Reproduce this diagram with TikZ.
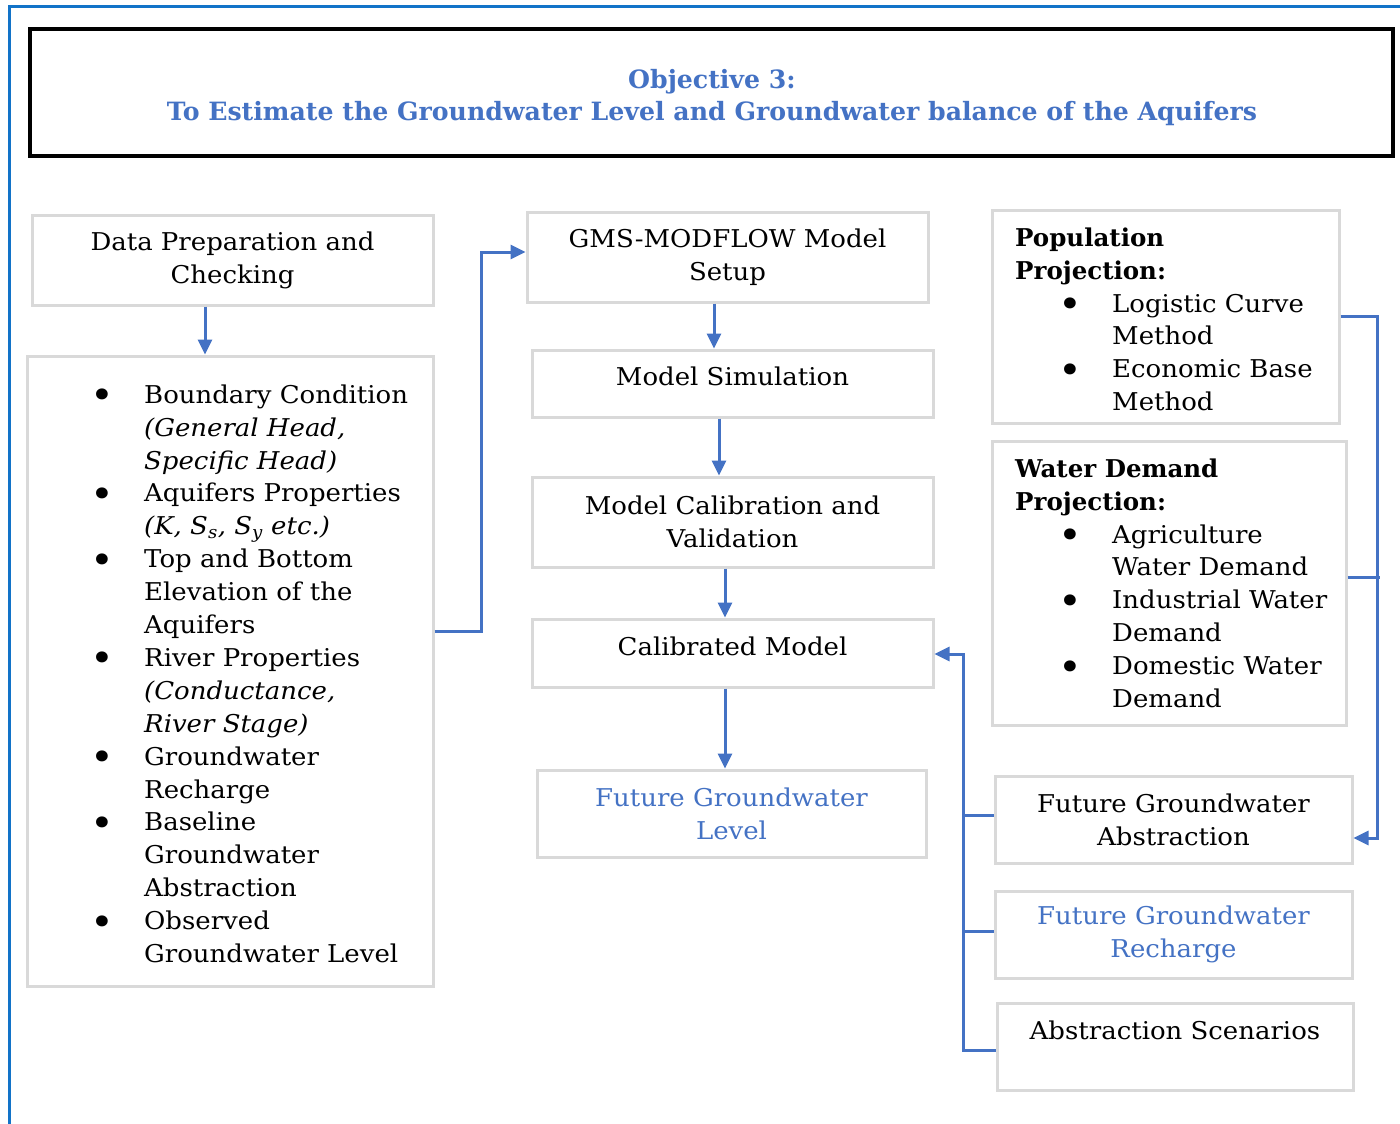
\documentclass[tikz,border=0pt]{standalone}
\usepackage{fontspec}
\setmainfont{DejaVu Serif}[FakeStretch=1.06, BoldFeatures={FakeStretch=1.0}]
\usetikzlibrary{arrows.meta,calc}
\definecolor{accent}{HTML}{4472C4}
\definecolor{framecol}{HTML}{1273C8}
\definecolor{boxline}{HTML}{D9D9D9}
% bullet and hanging indent for the item lists
\newcommand{\bul}{\makebox[47pt][l]{\hspace*{-7pt}\raisebox{-5.5pt}{\scalebox{1.55}{\textbullet}}}}
\newcommand{\cont}{\hspace*{47pt}}
\newcommand{\subind}{\hspace*{50pt}}
\begin{document}
\begin{tikzpicture}[x=1pt,y=-1pt,
  every node/.style={font=\fontsize{24.5}{32.9}\selectfont},
  box/.style={draw=boxline, line width=3pt, inner sep=0pt, align=center},
  list/.style={inner sep=0pt, align=left, anchor=north west},
  link/.style={draw=accent, line width=3pt},
  arr/.style={link, -{Triangle[length=15pt,width=14pt]}},
]
\useasboundingbox (0,0) rectangle (1400,1124);
\fill[white] (0,0) rectangle (1400,1124);

% page frame
\draw[framecol, line width=3pt] (9,1124) -- (9,7) -- (1400,7);

% heading
\node[draw=black, line width=4pt, minimum width=1363pt, minimum height=127pt,
      inner sep=0pt] (title) at (711.5,92.5) {};
\node[align=center, text=accent, inner sep=0pt,
      font=\bfseries\fontsize{25.2}{32}\selectfont] (titletext) at (712,97.5)
  {Objective 3:\\To Estimate the Groundwater Level and Groundwater balance of the Aquifers};

% left column
\node[box, minimum width=401pt, minimum height=90pt] (prep) at (232.5,260)
  {Data Preparation and\\Checking};
\node[box, minimum width=406pt, minimum height=630pt] (inputs) at (230,671) {};
\node[list] (inputlist) at (97,380) {\strut\bul Boundary Condition\\
\cont\textit{(General Head,}\\
\cont\textit{Specific Head)}\\
\bul Aquifers Properties\\
\cont\textit{(K, S\textsubscript{s}, S\textsubscript{y} etc.)}\\
\bul Top and Bottom\\
\cont Elevation of the\\
\cont Aquifers\\
\bul River Properties\\
\cont\textit{(Conductance,}\\
\cont\textit{River Stage)}\\
\bul Groundwater\\
\cont Recharge\\
\bul Baseline\\
\cont Groundwater\\
\cont Abstraction\\
\bul Observed\\
\cont Groundwater Level};

% middle column
\node[box, minimum width=401pt, minimum height=90pt] (setup) at (727.5,257)
  {GMS-MODFLOW Model\\Setup};
\node[box, minimum width=401pt, minimum height=67pt, text depth=14pt] (sim) at (732.5,383.5)
  {Model Simulation};
\node[box, minimum width=401pt, minimum height=90pt] (calib) at (732.5,522)
  {Model Calibration and\\Validation};
\node[box, minimum width=401pt, minimum height=68pt, text depth=14pt] (calibrated) at (732.5,653)
  {Calibrated Model};
\node[box, minimum width=389pt, minimum height=87pt, text=accent] (level) at (731.5,813.5)
  {Future Groundwater\\Level};

% right column
\node[box, minimum width=347pt, minimum height=213pt] (pop) at (1165.5,316.5) {};
\node[list] (poplist) at (1015,223) {\strut\textbf{Population}\\
\textbf{Projection:}\\
\subind\bul Logistic Curve\\
\subind\cont Method\\
\subind\bul Economic Base\\
\subind\cont Method};
\node[box, minimum width=354pt, minimum height=284pt] (demand) at (1169,583) {};
\node[list] (demandlist) at (1015,454) {\strut\textbf{Water Demand}\\
\textbf{Projection:}\\
\subind\bul Agriculture\\
\subind\cont Water Demand\\
\subind\bul Industrial Water\\
\subind\cont Demand\\
\subind\bul Domestic Water\\
\subind\cont Demand};
\node[box, minimum width=357pt, minimum height=87pt] (abstr) at (1173.5,819.5)
  {Future Groundwater\\Abstraction};
\node[box, minimum width=357pt, minimum height=87pt, text=accent] (recharge) at (1173.5,934.5)
  {Future Groundwater\\Recharge};
\node[box, minimum width=356pt, minimum height=87pt] (scen) at (1175,1046.5)
  {Abstraction Scenarios\\[-10pt]\strut};

% connectors
\draw[arr] ([xshift=-27.5pt]prep.south) -- ([xshift=-27.5pt]prep.south |- inputs.north);
\draw[arr] ([yshift=40pt]inputs.east) -- ++(47,0) |- ([yshift=5pt]setup.west);
\draw[arr] ([xshift=-13.5pt]setup.south) -- ([xshift=-13.5pt]setup.south |- sim.north);
\draw[arr] ([xshift=-13.5pt]sim.south) -- ([xshift=-13.5pt]sim.south |- calib.north);
\draw[arr] ([xshift=-7.5pt]calib.south) -- ([xshift=-7.5pt]calib.south |- calibrated.north);
\draw[arr] ([xshift=-7.5pt]calibrated.south) -- ([xshift=-7.5pt]calibrated.south |- level.north);

\draw[arr] (pop.east) -| ([xshift=24pt,yshift=-18.5pt]abstr.east) -- ([yshift=-18.5pt]abstr.east);
\draw[link] ([yshift=6pt]demand.east) -- ++(32,0);

\draw[arr] ([yshift=-3.5pt]scen.west) -- ++(-32,0) |- ([yshift=-1pt]calibrated.east);
\draw[link] ([yshift=4.5pt]abstr.west) -- ++(-30,0);
\draw[link] ([yshift=3.5pt]recharge.west) -- ++(-30,0);
\end{tikzpicture}
\end{document}
